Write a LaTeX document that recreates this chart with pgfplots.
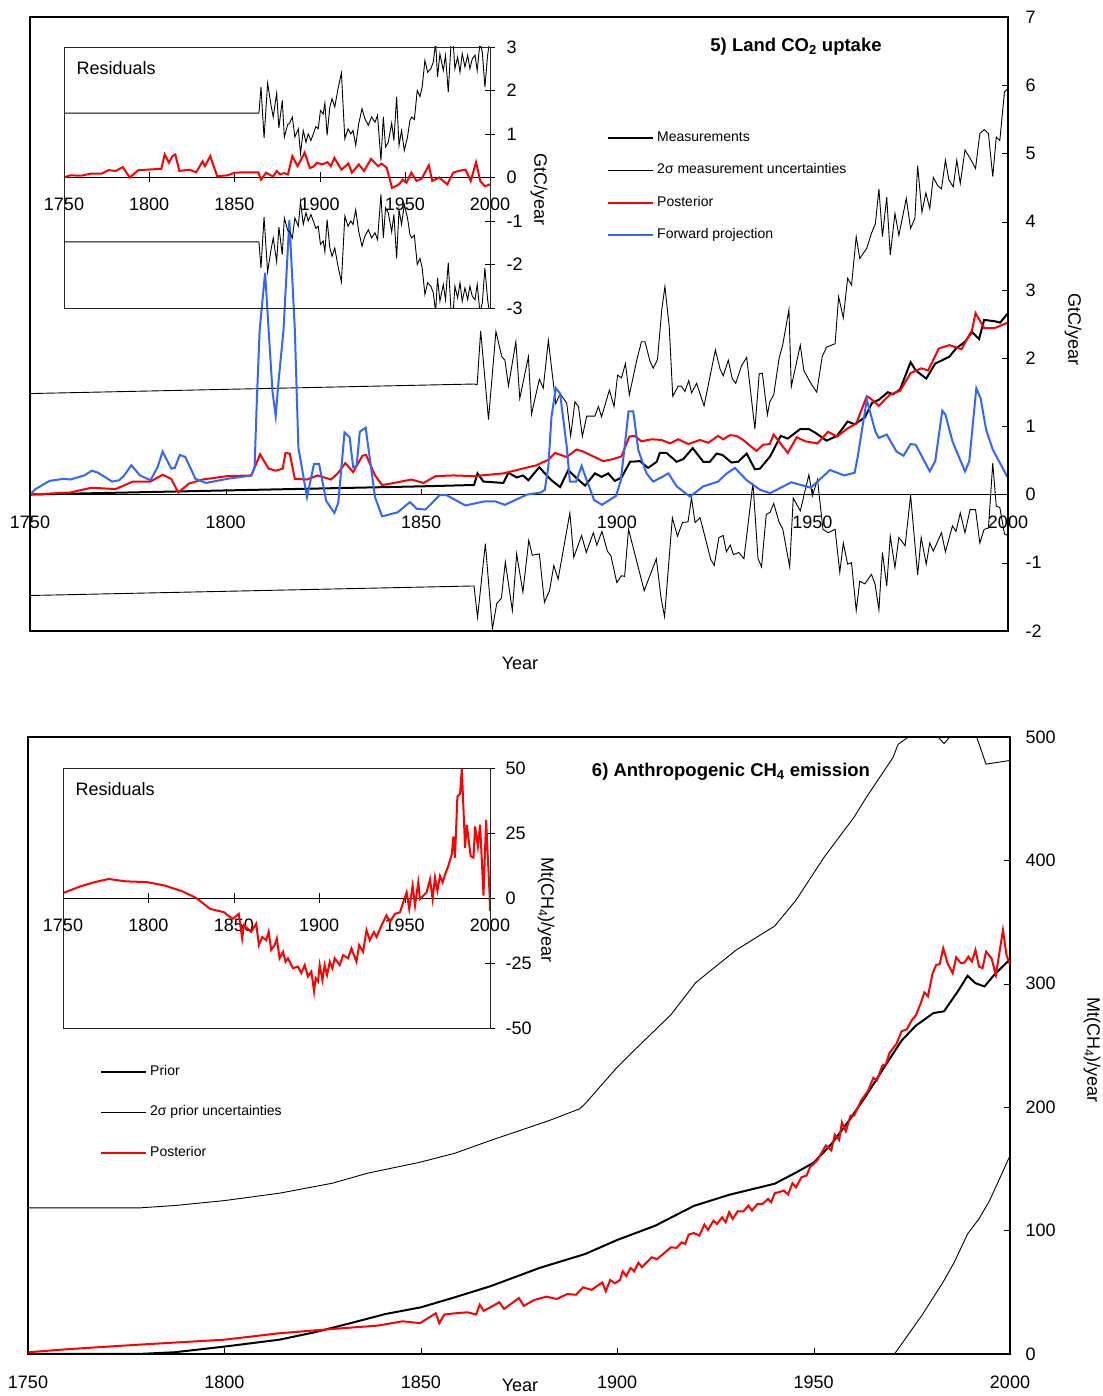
\documentclass[border=0pt]{standalone}
\usepackage{fontspec}
\setmainfont{Liberation Sans}
\usepackage{pgfplots}
\usepackage{pgfplotstable}
\pgfplotsset{compat=1.18}
\definecolor{fwdblue}{RGB}{51,102,255}

% ---------- panel 5: land CO2 uptake ----------
\pgfplotstableread{
year val
1750 0.00
1775 0.03
1800 0.06
1825 0.09
1850 0.12
1863.5 0.14
1864.4 0.31
1865.9 0.19
1871 0.17
1872.3 0.32
1874.4 0.25
1876 0.28
1877.4 0.21
1878.7 0.30
1880.2 0.40
1881.6 0.31
1883.3 0.21
1885.5 0.11
1887.6 0.36
1889.7 0.24
1891.9 0.13
1894.4 0.31
1896.1 0.26
1897.8 0.31
1899.5 0.20
1901.2 0.25
1903.4 0.48
1905.9 0.49
1908 0.39
1910.2 0.48
1911 0.61
1912.7 0.61
1915.3 0.48
1917 0.52
1919.4 0.68
1922.1 0.48
1923.8 0.48
1925.5 0.60
1927 0.58
1929.3 0.47
1931 0.48
1933.2 0.60
1935.3 0.37
1936.6 0.38
1939.2 0.56
1941.9 0.86
1943.7 0.82
1946.9 0.96
1949.1 0.96
1950.9 0.90
1953.6 0.79
1956.3 0.86
1959 1.07
1960.8 1.03
1963.4 1.13
1965.2 1.34
1967 1.39
1969.3 1.50
1970.6 1.47
1972.4 1.54
1975.1 1.94
1976.4 1.82
1979.1 1.70
1981.4 1.92
1985 2.02
1986.7 2.14
1989 2.24
1990.8 2.38
1992.6 2.28
1993.9 2.56
1996.6 2.54
1998 2.52
2000 2.66
}\measA

\pgfplotstableread{
year val
1750 1.48
1863.5 1.62
1864.3 1.61
1865.2 2.40
1867.2 1.10
1869.1 2.39
1870.6 2.02
1871.4 1.97
1872.3 1.59
1874.2 2.24
1875.2 1.41
1877.4 2.02
1878.2 1.18
1880.2 1.69
1881.2 1.56
1882.5 2.26
1884.4 1.33
1885.5 1.48
1887.2 1.34
1888.2 0.86
1889.3 1.36
1890.2 1.29
1891.2 0.85
1892.3 1.15
1894.4 1.15
1895.3 1.29
1896.1 1.14
1898.1 1.53
1899.3 1.29
1900.2 1.75
1901.2 1.71
1902.2 1.92
1903.2 1.46
1905.1 1.97
1906.3 2.24
1907.2 2.24
1908.5 1.95
1909.3 1.85
1910.4 1.98
1911.5 2.71
1912.3 3.05
1913.4 2.46
1914.3 1.44
1915.7 1.59
1916.5 1.59
1917.4 1.51
1918.4 1.67
1919.1 1.49
1920.4 1.63
1922.3 1.30
1925.2 2.12
1926.4 1.84
1927.2 1.74
1928.5 1.97
1929.5 1.70
1930.4 1.63
1931.9 1.89
1933.2 2.01
1935.3 0.96
1936.4 1.77
1937.2 1.78
1938.5 1.17
1939.1 1.36
1940.1 1.46
1941.5 2.00
1942.4 2.19
1944 2.71
1944.6 1.58
1946.9 2.19
1947.8 1.82
1949.6 1.63
1951.1 1.50
1952.5 2.02
1953.6 2.16
1955.8 2.21
1956.7 2.90
1957.9 2.59
1959 3.17
1960 3.07
1961.2 3.78
1962.1 3.46
1963.9 3.61
1965.1 3.83
1966.1 3.97
1967 4.48
1967.9 3.78
1969 4.36
1969.9 3.51
1971.1 4.12
1972.1 3.80
1974 4.34
1975.1 3.90
1976.2 4.05
1976.9 4.82
1978 4.14
1979 4.42
1980 4.19
1980.9 4.65
1982 4.53
1983 4.48
1984 4.90
1984.9 4.61
1986 4.51
1986.9 4.90
1987.8 4.56
1989 5.05
1990.1 4.95
1991.7 4.78
1992.8 5.29
1993.9 5.35
1995 5.29
1996.1 4.66
1997 5.24
1997.9 5.19
1999.1 5.90
2000 5.95
}\upA

\pgfplotstableread{
year val
1750 -1.48
1863.5 -1.34
1864.4 -1.80
1866.4 -0.72
1868.2 -1.97
1869.3 -1.60
1870.5 -1.52
1871.5 -0.99
1873.3 -1.70
1874.4 -0.87
1876 -1.43
1877.5 -0.67
1878.4 -0.89
1880.2 -0.87
1881.5 -1.58
1882.8 -1.41
1883.9 -1.04
1885 -1.24
1888 -0.27
1889 -0.92
1891 -0.60
1892.2 -0.85
1894 -0.56
1894.9 -0.74
1896.2 -0.54
1897.6 -0.83
1898.5 -0.90
1900 -1.29
1901.2 -1.19
1902 -1.20
1903 -0.51
1907 -1.41
1910.1 -0.94
1911.3 -1.51
1912.2 -1.79
1914.2 -0.34
1915.5 -0.61
1916.8 -0.41
1918.2 -0.40
1919.1 -0.05
1920 -0.41
1921.3 -0.34
1924 -0.95
1924.9 -1.04
1926.1 -0.63
1927.2 -0.60
1928 -0.84
1929 -0.74
1929.8 -0.88
1931.2 -0.85
1932.5 -0.94
1933.4 -0.51
1934.8 0.17
1936.1 -0.94
1937 -1.06
1938.2 -0.29
1939.2 -0.26
1940.1 -0.13
1941.5 -0.41
1942.4 -0.50
1944.2 -1.06
1945.1 -0.05
1946.9 -0.24
1949.1 0.29
1950 -0.02
1951.3 0.22
1952.7 -0.51
1954 -0.56
1955.8 -0.51
1957 -1.14
1957.9 -0.71
1959 -1.02
1960 -1.00
1961.2 -1.70
1962.1 -1.27
1963.4 -1.31
1965.1 -1.17
1966 -1.31
1967 -1.69
1967.9 -0.85
1969 -1.34
1969.9 -0.61
1971.1 -1.07
1972.1 -0.63
1973.7 -0.75
1975.1 -0.01
1976.9 -1.18
1977.8 -0.63
1979.1 -1.02
1980 -0.71
1980.9 -0.83
1983 -0.56
1984 -0.84
1985.8 -0.46
1986.7 -0.54
1987.8 -0.27
1989 -0.56
1990.3 -0.22
1991.7 -0.22
1992.8 -0.71
1993.9 -0.51
1995 -0.49
1996.1 0.46
1997 -0.17
1997.9 -0.19
1999.1 -0.58
2000 -0.60
}\lowA

\pgfplotstableread{
year val
1750 0
1760.3 0.03
1765.7 0.10
1771.9 0.08
1776.3 0.19
1780.8 0.19
1783.9 0.29
1786.1 0.23
1787.9 0.03
1790.6 0.16
1794.1 0.22
1800.4 0.27
1806.6 0.28
1808.8 0.59
1811 0.38
1812.8 0.35
1814.6 0.38
1815.3 0.61
1816.4 0.60
1817.7 0.23
1820.8 0.22
1823.5 0.28
1827 0.22
1828.8 0.32
1830.6 0.46
1832.6 0.33
1835 0.57
1835.9 0.58
1838.2 0.28
1840 0.14
1842.2 0.16
1847.5 0.22
1850.6 0.17
1853.7 0.27
1858.2 0.28
1863.5 0.27
1871 0.31
1875.2 0.37
1879.5 0.43
1882.5 0.51
1884.2 0.61
1887.2 0.55
1889.7 0.66
1891.4 0.63
1896.5 0.49
1899.1 0.52
1901.2 0.56
1903.2 0.85
1904.6 0.86
1906.3 0.78
1908.9 0.81
1911.4 0.80
1913.6 0.75
1915.7 0.81
1918.3 0.74
1921.2 0.80
1923.4 0.76
1925.9 0.86
1927.2 0.81
1928.9 0.87
1930.6 0.86
1932.3 0.80
1935.7 0.64
1937.4 0.73
1939.1 0.74
1940.1 0.88
1943.7 0.61
1946 0.84
1948.2 0.78
1951.3 0.75
1954 0.92
1956.3 0.85
1959 0.97
1961.2 1.04
1963.9 1.44
1964.8 1.41
1967 1.30
1969.7 1.46
1972.4 1.52
1975.1 1.78
1977.8 1.85
1979.6 1.82
1982.3 2.14
1985 2.19
1988.1 2.13
1990.8 2.41
1991.7 2.66
1993.9 2.44
1996.6 2.44
1999.1 2.50
2000 2.52
}\postA

\pgfplotstableread{
year val
1750 0
1751.4 0.08
1755 0.20
1758.5 0.23
1760.3 0.22
1763.9 0.28
1765.8 0.35
1767.4 0.32
1771 0.19
1772.8 0.21
1774.1 0.28
1775.9 0.43
1778.1 0.28
1780.8 0.21
1782.6 0.40
1783.9 0.63
1786.1 0.38
1787 0.39
1788.3 0.58
1789.7 0.55
1792.3 0.23
1795 0.17
1800.4 0.23
1806.6 0.28
1807.4 0.40
1808 1.40
1808.7 2.41
1810.1 3.25
1811 2.41
1812 1.50
1812.8 1.15
1813.6 1.70
1814.8 2.41
1816.3 4.02
1817.7 2.41
1818.6 0.69
1820.8 -0.04
1822.6 0.45
1823.9 0.45
1825.7 -0.09
1827.8 -0.27
1828.8 -0.12
1830.4 0.91
1831.7 0.84
1832.6 0.40
1833.5 0.42
1834.3 0.92
1835.8 0.98
1838.2 -0.04
1840 -0.32
1844 -0.26
1847.1 -0.11
1848.9 -0.21
1851.1 -0.22
1854.7 -0.01
1856.5 -0.01
1861.3 -0.16
1866.2 -0.10
1868.9 -0.10
1871.4 -0.15
1877.1 0.00
1880.6 0.03
1881.6 0.07
1882.5 0.41
1883.3 1.14
1884.4 1.56
1885.5 1.48
1887.2 0.70
1888 0.19
1889.6 0.19
1891 0.42
1892.3 0.21
1894.2 -0.08
1896.2 -0.15
1899.8 -0.02
1901 0.20
1902 0.70
1903 1.22
1904.2 1.22
1905.5 0.65
1907.6 0.31
1909.3 0.19
1911 0.24
1913.2 0.31
1915.3 0.12
1918.7 -0.03
1922.1 0.12
1925.9 0.19
1928.1 0.31
1930.2 0.39
1933.2 0.21
1936.6 0.07
1939.2 0.02
1944.6 0.18
1949.6 0.10
1954.5 0.36
1958.1 0.28
1960.8 0.32
1961.6 0.56
1963.9 1.39
1966.1 0.92
1967 0.83
1969 0.88
1971.5 0.63
1973.3 0.57
1975.1 0.74
1976.4 0.73
1980 0.34
1981.4 0.49
1983.2 1.23
1984 1.17
1985.8 0.78
1989 0.34
1990.1 0.49
1991.9 1.56
1993 1.41
1994.4 0.95
1996.1 0.66
2000 0.24
}\fwdA

% residual band of the inset: +/- 2 sigma
\pgfplotstableread{
year up lo
1750 1.48 -1.48
1864.4 1.48 -1.48
1865.6 2.08 -2.08
1867.4 0.91 -0.91
1869.5 2.17 -2.17
1871.5 1.66 -1.66
1872.8 1.39 -1.39
1874.8 1.94 -1.94
1876.1 1.14 -1.14
1878.1 1.77 -1.77
1879.3 0.93 -0.93
1881.3 1.22 -1.22
1882.3 1.24 -1.24
1884 1.39 -1.39
1885.5 0.93 -0.93
1887.5 1.12 -1.12
1888.8 0.55 -0.55
1890.4 1.08 -1.08
1892 0.81 -0.81
1893.3 1.00 -1.00
1894.9 0.85 -0.85
1896.3 1.00 -1.00
1897.8 1.17 -1.17
1899.2 1.12 -1.12
1900.5 1.54 -1.54
1902.1 1.46 -1.46
1903.1 1.71 -1.71
1904.4 0.97 -0.97
1906 1.62 -1.62
1907.3 1.81 -1.81
1908.9 1.62 -1.62
1910.8 2.04 -2.04
1912.8 2.40 -2.40
1914.8 0.89 -0.89
1916.7 1.12 -1.12
1918.3 1.00 -1.00
1919.6 1.08 -1.08
1921.2 0.74 -0.74
1922.9 1.23 -1.23
1924.9 1.58 -1.58
1926.6 1.35 -1.35
1928.6 1.20 -1.20
1930.5 1.39 -1.39
1932.5 1.27 -1.27
1934 1.43 -1.43
1936 0.39 -0.39
1937.4 1.39 -1.39
1938.7 0.70 -0.70
1940.3 0.81 -0.81
1942.3 1.25 -1.25
1943.6 0.85 -0.85
1945.2 1.86 -1.86
1946.6 0.74 -0.74
1948.1 1.08 -1.08
1949.7 0.62 -0.62
1951.6 0.93 -0.93
1953 1.31 -1.31
1954 1.39 -1.39
1955.6 1.33 -1.33
1957.3 2.00 -2.00
1958.9 1.86 -1.86
1960.2 2.08 -2.08
1961.8 2.69 -2.69
1963.4 2.42 -2.42
1965.3 2.50 -2.50
1966.7 2.65 -2.65
1968.1 3.10 -3.10
1969.2 2.31 -2.31
1970.6 2.84 -2.84
1972.6 2.46 -2.46
1973.9 2.81 -2.81
1975.5 1.96 -1.96
1977.1 3.05 -3.05
1978.4 3.10 -3.10
1979.4 2.50 -2.50
1981 2.77 -2.77
1982.4 2.42 -2.42
1983.7 2.85 -2.85
1985.3 2.54 -2.54
1986.9 2.81 -2.81
1988.2 2.50 -2.50
1989.6 2.73 -2.73
1991.2 2.81 -2.81
1992.5 2.46 -2.46
1994.1 3.10 -3.10
1995.5 2.88 -2.88
1997 2.08 -2.08
1998.6 2.81 -2.81
2000 3.20 -3.20
}\bandA

\pgfplotstableread{
year val
1750 0
1753.7 0.05
1760 0.04
1766 0.09
1772.2 0.09
1776.3 0.17
1780.4 0.15
1784.5 0.24
1788.6 0.00
1793.7 0.17
1798.9 0.18
1807.1 0.20
1809.1 0.53
1811.6 0.34
1813.6 0.49
1815.3 0.53
1817.7 0.15
1823.5 0.18
1827.6 0.12
1831.3 0.37
1832.7 0.26
1835.8 0.49
1839.9 0.03
1846.1 0.05
1850.2 0.11
1856.3 0.12
1864.1 0.12
1865.6 -0.05
1868.6 0.11
1872.7 0.02
1874.8 0.15
1876.8 0.07
1879 0.10
1881.4 0.07
1884 0.49
1887.1 0.26
1891.2 0.57
1894.3 0.22
1896.4 0.25
1898.4 0.34
1901.5 0.30
1904.6 0.35
1906.6 0.26
1908.7 0.45
1912.8 0.18
1916.9 0.32
1919 0.11
1923 0.30
1926.1 0.15
1930.2 0.43
1934.3 0.26
1936.4 0.32
1939.4 0.22
1942.5 -0.24
1946.6 -0.16
1948.7 -0.05
1951 -0.12
1953.8 0.11
1956.9 -0.08
1960 -0.02
1964.1 0.28
1966.1 -0.08
1970.2 0.00
1974.9 -0.16
1978.4 0.11
1981.5 0.15
1985.6 0.18
1988.7 -0.08
1991.8 0.35
1994.3 -0.08
1996.9 -0.20
2000 -0.16
}\resA

% ---------- panel 6: anthropogenic CH4 emission ----------
\pgfplotstableread{
year val
1750 0
1778 0
1787.3 1.4
1800 6
1814 11.6
1823 17.6
1832 24.9
1841 32.4
1850 37.8
1858.7 46
1867.7 54.9
1880.2 69.7
1891.8 81
1900 92.4
1909.7 104
1919.5 120
1928.5 129
1940.1 138
1945.5 147
1950 155
1954.5 170
1959 189
1963.4 209.5
1967.9 232
1972.4 254
1976 266
1980.5 276.3
1983.2 277.7
1986.7 293.8
1989.2 306.5
1991.2 300.5
1993.5 297.8
1995.9 307
2000 319.9
}\priorB

\pgfplotstableread{
year val
1750 1.4
1760.5 4
1778.4 7.6
1800 11.6
1814 16.8
1827.5 20.3
1839 23
1845.4 26.5
1849.8 25
1853.8 33
1854.7 24.9
1856 32
1858.8 33
1861.9 33.8
1864.1 32
1865 40
1866 35
1867.7 37.8
1870 42
1871.2 36.5
1875 45.4
1876.2 39
1878.9 43.8
1882 46.5
1884.6 44.6
1887.3 48.6
1889.5 48
1891.3 54
1893.5 52
1896.2 58
1897.1 50.8
1898.2 60
1899.4 57.3
1900.7 60
1901.4 67
1902.3 63.2
1903.4 69.7
1904.3 67
1905.4 74
1906.3 70.3
1908.8 78.4
1910.1 76.8
1911.5 80.5
1913.7 86.5
1915.1 86
1916.4 90.5
1917.3 89.2
1918.2 96.8
1919.5 98
1920.9 96
1922.2 104.9
1923.1 100.5
1924.5 108
1925.4 105.4
1926.7 110.8
1927.6 106.8
1928.5 114.9
1929.4 109.5
1930.7 115.7
1932.1 115.5
1933.4 120.3
1934.3 116.2
1935.7 121.6
1937 121.6
1938.4 125.7
1939.2 123
1940.1 130.3
1941 131
1942.4 132.4
1943.5 129.2
1944.6 138.4
1945.5 135
1946.9 143.2
1948.2 144.6
1949.1 151.4
1950.9 156.8
1953.1 169
1954.5 165
1955.4 177.8
1956.5 173.5
1957.2 187.8
1958.2 180.5
1959.4 193.2
1960.3 193.2
1962.1 205.4
1963.9 213.5
1965.2 223.8
1966.1 221.6
1967.5 233.8
1968.4 234.6
1969.3 243.8
1971.1 251.4
1972.4 261.6
1973.7 263
1975.1 271
1976 274.2
1977.3 284.4
1978.2 293
1979.1 289.8
1980.3 308.6
1981.2 315.3
1982.1 315.9
1983 328.8
1984.1 316.7
1985.4 308.6
1986.3 321.5
1987.5 316.7
1988.4 317.2
1989.4 322
1990.3 318
1991.2 327.4
1992.1 314
1993 312.6
1993.9 326
1995.3 320.7
1996.4 307
1998.2 343.5
1999.1 323.4
2000 315.3
}\postB

\pgfplotstableread{
year val
1750 118.4
1778.4 118.4
1787.3 120.3
1800 124.3
1814 130.3
1827.5 138.4
1836.4 146.5
1849.8 155.4
1858.7 162.7
1867.7 173
1882.7 189.2
1890.4 198.6
1891.8 202.7
1900 232.4
1904.3 246
1913.7 275
1920 301
1930.3 327.4
1940.1 346.8
1945.5 367.7
1952.7 402.7
1960.3 435
1963.4 451
1970.2 483.3
1971.5 494
1972.4 496.2
1975.1 502
1980 506
1983.2 494.6
1986 505
1990 510
1991.5 500
1993.9 478
2000 481
}\upB

\pgfplotstableread{
year val
1968.5 -10
1970.6 0
1974.2 16.2
1977.8 32.4
1983.2 59.5
1985.8 74.3
1989.2 97.3
1992.1 109.5
1994.8 124.3
1997.9 146
2000 160.8
}\lowB

\pgfplotstableread{
year val
1750 1.9
1760.3 4.5
1768.5 6.1
1776.7 7.3
1786.9 6.4
1799.3 6.1
1809.5 4.8
1819.8 2.6
1828 0
1836.2 -4.2
1844.4 -5.5
1846.5 -6.7
1849.4 -8
1852.9 -6.1
1854.9 -15.6
1855.9 -10.5
1858.2 -11.8
1860.2 -13
1863.1 -9.9
1864.7 -18.1
1866.6 -15
1869 -16.2
1870.4 -13
1871.9 -20
1873.9 -18.1
1875.2 -15.6
1876.8 -23.2
1878.8 -20.7
1880.3 -24.5
1881.7 -23.2
1884.6 -27
1887.6 -26.4
1889.5 -28.9
1891.5 -25.8
1893.4 -30.2
1895.4 -28.3
1897 -35.9
1897.9 -30.8
1899.3 -32.1
1900.3 -25.8
1901.9 -31.5
1903.2 -25.8
1904.6 -29.6
1906.2 -24.5
1907.7 -27
1909.1 -23.2
1912 -25.8
1914 -22
1916.9 -23.2
1918.9 -19.4
1921.8 -24.5
1923.4 -18.1
1925.7 -20.7
1927.7 -12.4
1929.6 -16.2
1932 -13.1
1933.6 -15
1936.5 -10.5
1939.4 -6.7
1941.4 -9.3
1944.3 -6.1
1947.3 -5.5
1949.2 -1.6
1951.2 2.2
1952.7 -4.2
1954.7 4.7
1956.1 -2.9
1958 6
1959 -0.4
1961 0.9
1962.9 2.2
1964.9 7.2
1966.4 -0.4
1967.8 7.9
1969.2 2.8
1970.7 8.5
1972.3 6
1973.7 9.1
1975.6 12.3
1977.6 16.8
1978.6 23.7
1979.5 15.5
1980.9 39
1982.5 40.2
1983.5 49.7
1985.4 19.3
1986.4 28.2
1988.7 16.1
1990.3 15.5
1991.3 27.5
1992.9 19.9
1994.2 28.2
1996.2 0.9
1997.7 30
1999.7 2.2
2000 -5
}\resB

\pgfplotsset{
  panel/.style={
    scale only axis, clip mode=individual,
    xmin=1750, xmax=2000,
    xtick={1750,1800,1850,1900,1950,2000},
    xticklabels={1750,1800,1850,1900,1950,2000},
    tick label style={font=\fontsize{18}{18}\selectfont},
    hide obscured x ticks=false, hide obscured y ticks=false,
    tick style={black},
  },
  thickline/.style={line width=2pt},
  thinline/.style={line width=0.9pt, black},
}

\begin{document}
\begin{tikzpicture}[x=1pt,y=1pt]
\useasboundingbox (0,0) rectangle (1102,1396);

% ===== panel 5 main =====
\begin{axis}[panel, at={(30pt,765pt)}, anchor=south west,
  width=978pt, height=614pt, ymin=-2, ymax=7,
  axis x line=middle, axis y line=right,
  x axis line style={line width=1pt, -},
  y axis line style={line width=1.6pt, -},
  ytick={-2,-1,0,1,2,3,4,5,6,7},
  yticklabels={-2,-1,0,1,2,3,4,5,6,7},
  tick align=inside, major tick length=6pt,
  xticklabel style={anchor=north, yshift=-18pt},
  yticklabel style={anchor=west, xshift=14pt},
  legend style={at={(0.590,0.814)}, anchor=north west, draw=none, fill=none,
    font=\fontsize{14}{14}\selectfont, row sep=19.5pt, column sep=3pt,
    inner sep=0pt, nodes={inner sep=0pt, text height=10pt, text depth=3pt}},
  legend cell align=left,
  legend image code/.code={\draw[#1] (0pt,0pt) -- (45pt,0pt);},
]
\addlegendimage{black, line width=2pt}
\addlegendentry{Measurements}
\addlegendimage{black, line width=0.9pt}
\addlegendentry{2σ measurement uncertainties}
\addlegendimage{red, line width=2pt}
\addlegendentry{Posterior}
\addlegendimage{fwdblue, line width=2pt}
\addlegendentry{Forward projection}
\addplot[thickline, black, forget plot] table[x=year, y=val] {\measA};
\addplot[thinline, forget plot] table[x=year, y=val] {\upA};
\addplot[thinline, forget plot] table[x=year, y=val] {\lowA};
\addplot[thickline, red, forget plot] table[x=year, y=val] {\postA};
\addplot[thickline, fwdblue, forget plot] table[x=year, y=val] {\fwdA};
\draw[line width=1.6pt] (rel axis cs:0,0) rectangle (rel axis cs:1,1);
\end{axis}

% ===== panel 5 inset =====
\begin{axis}[panel, at={(64pt,1088pt)}, anchor=south west,
  width=426pt, height=261pt, ymin=-3, ymax=3,
  axis x line=middle, axis y line=right,
  x axis line style={line width=0.9pt, -},
  y axis line style={line width=0.9pt, -},
  ytick={-3,-2,-1,0,1,2,3},
  yticklabels={-3,-2,-1,0,1,2,3},
  tick align=center, major tick length=10pt,
  xticklabel style={anchor=north, yshift=-12pt},
  yticklabel style={anchor=west, xshift=8pt},
]
\addplot[thinline] table[x=year, y=up] {\bandA};
\addplot[thinline] table[x=year, y=lo] {\bandA};
\addplot[thickline, red] table[x=year, y=val] {\resA};
\draw[line width=0.9pt, black!85] (rel axis cs:0,0) rectangle (rel axis cs:1,1);
\end{axis}

% ===== panel 6 main =====
\begin{axis}[panel, at={(28pt,42pt)}, anchor=south west,
  width=982pt, height=617pt, ymin=0, ymax=500,
  axis line style={line width=1.6pt},
  ytick={0,100,200,300,400,500},
  yticklabels={0,100,200,300,400,500},
  xtick pos=bottom, ytick pos=right, yticklabel pos=right,
  tick align=inside, major tick length=6pt,
  xticklabel style={anchor=north, yshift=-18pt},
  yticklabel style={anchor=west, xshift=12pt},
  legend style={at={(0.0733,0.468)}, anchor=north west, draw=none, fill=none,
    font=\fontsize{14}{14}\selectfont, row sep=27.5pt, column sep=3pt,
    inner sep=0pt, nodes={inner sep=0pt, text height=10pt, text depth=3pt}},
  legend cell align=left,
  legend image code/.code={\draw[#1] (0pt,0pt) -- (45pt,0pt);},
]
\addlegendimage{black, line width=2pt}
\addlegendentry{Prior}
\addlegendimage{black, line width=0.9pt}
\addlegendentry{2σ prior uncertainties}
\addlegendimage{red, line width=2pt}
\addlegendentry{Posterior}
\addplot[thickline, black, forget plot] table[x=year, y=val] {\priorB};
\addplot[thinline, forget plot] table[x=year, y=val] {\upB};
\addplot[thinline, forget plot] table[x=year, y=val] {\lowB};
\addplot[thickline, red, forget plot] table[x=year, y=val] {\postB};
\end{axis}

% ===== panel 6 inset =====
\begin{axis}[panel, at={(63pt,368pt)}, anchor=south west,
  width=427pt, height=260pt, ymin=-50, ymax=50,
  axis x line=middle, axis y line=right,
  x axis line style={line width=0.9pt, -},
  y axis line style={line width=0.9pt, -},
  ytick={-50,-25,0,25,50},
  yticklabels={-50,-25,0,25,50},
  tick align=center, major tick length=10pt,
  xticklabel style={anchor=north, yshift=-12pt},
  yticklabel style={anchor=west, xshift=7pt},
]
\addplot[thickline, red] table[x=year, y=val] {\resB};
\draw[line width=0.9pt, black!85] (rel axis cs:0,0) rectangle (rel axis cs:1,1);
\end{axis}

% ===== titles and labels =====
\node[font=\bfseries\fontsize{18.5}{20}\selectfont] at (796,1349) {5) Land CO\textsubscript{2} uptake};
\node[font=\fontsize{18}{20}\selectfont, anchor=west] at (73,1328) {Residuals};
\node[font=\fontsize{18}{20}\selectfont, rotate=-90] at (539,1206) {GtC/year};
\node[font=\fontsize{18}{20}\selectfont, rotate=-90] at (1073,1066) {GtC/year};
\node[font=\fontsize{18}{20}\selectfont] at (520,733) {Year};

\node[font=\bfseries\fontsize{18.5}{20}\selectfont] at (731,624) {6) Anthropogenic CH\textsubscript{4} emission};
\node[font=\fontsize{18}{20}\selectfont, anchor=west] at (72,607) {Residuals};
\node[font=\fontsize{18}{20}\selectfont, rotate=-90] at (546,486) {Mt(CH\textsubscript{4})/year};
\node[font=\fontsize{18}{20}\selectfont, rotate=-90] at (1092,346) {Mt(CH\textsubscript{4})/year};
\node[font=\fontsize{18}{20}\selectfont] at (520,11) {Year};
\end{tikzpicture}
\end{document}
